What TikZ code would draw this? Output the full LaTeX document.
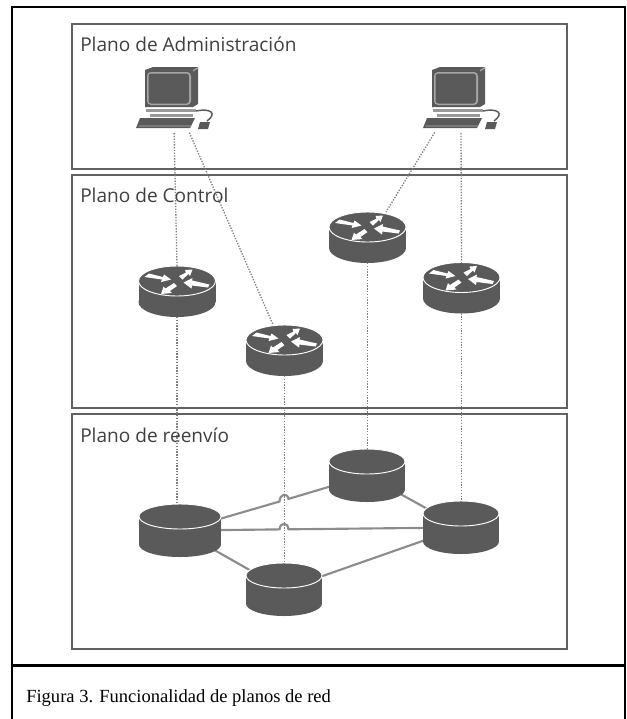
\documentclass[tikz,border=0pt]{standalone}
\usepackage{fontspec}
\setmainfont{Liberation Serif}
\newfontfamily\planefont{Open Sans}
\usetikzlibrary{backgrounds}
\definecolor{devgray}{HTML}{5A5A5A}
\definecolor{linkgray}{HTML}{8C8C8C}
\tikzset{
	devbox/.style={inner sep=0pt,outer sep=0pt,transform shape},
	planebox/.style={draw=black!62,line width=1.3pt,inner sep=0pt,outer sep=0pt},
	planelabel/.style={anchor=base west,inner sep=0pt,text=black!75,font=\planefont\fontsize{14.3}{17}\selectfont},
	captionlabel/.style={anchor=base west,inner sep=0pt,font=\fontsize{13.9}{16}\selectfont},
	framerule/.style={line width=1.6pt,black},
	devlink/.style={linkgray,line width=1.6pt},
	plink/.style={black!50,line width=1pt,dash pattern=on 1pt off 1.1pt},
	routerdev/.pic={
		\node[devbox,minimum width=57.75pt,minimum height=38.25pt] (-box) at (0,0) {};
		\fill[devgray] (-38.5,-10.5) rectangle (38.5,10.5);
		\fill[devgray] (0,10.5) ellipse [x radius=38.5,y radius=15];
		\draw[white,fill=devgray,line width=.7pt] (0,-10.5) ellipse [x radius=38.5,y radius=15];
		% four arrows on the lid
		\begin{scope}[shift={(0,-10.5)}]
			\fill[white] (-32.5,-4) -- (-28,-7.5) -- (-14,-4) -- (-13,-6.5) -- (-6,-1.5) -- (-16,1) -- (-15,-1.5) -- cycle;
			\fill[white] (2,-5) -- (9,-8.5) -- (8,-11) -- (15.5,-11.5) -- (13,-5) -- (11.5,-7) -- (5.5,-1.5) -- cycle;
			\fill[white] (32.5,3.5) -- (31,6.5) -- (15,4.5) -- (14.5,7.5) -- (6.5,1.5) -- (15.5,-3) -- (15,-.5) -- cycle;
			\fill[white] (-3,2) -- (0,5) -- (-7,10) -- (-5,12) -- (-16,13) -- (-13.5,5.5) -- (-11.5,7.5) -- cycle;
		\end{scope}
	},
	cylinderdev/.pic={
		\node[devbox,minimum width=57pt,minimum height=39.75pt] (-box) at (0,0) {};
		\fill[devgray] (-38,-14) rectangle (38,14);
		\fill[devgray] (0,14) ellipse [x radius=38,y radius=12.5];
		\draw[white,fill=devgray,line width=.7pt] (0,-14) ellipse [x radius=38,y radius=12.5];
	},
	pcdev/.pic={
		\node[devbox,minimum width=57pt,minimum height=46.5pt] (-box) at (0,0) {};
		% monitor
		\fill[devgray] (-29,-28) -- (-21,-31) -- (24,-31) -- (24,6) -- (19,9) -- (-29,9) -- cycle;
		\fill[black!35] (19,-28) -- (24,-31) -- (24,-29.5) -- (19,-26.5) -- cycle;
		\fill[black!35,rounded corners=3pt] (-27,-26) rectangle (17,7);
		\fill[devgray,rounded corners=2pt] (-25.5,-24.5) rectangle (15,5.5);
		% base
		\fill[black!40] (-28,11) rectangle (22,14);
		\fill[black!40] (-24,16) rectangle (19,19);
		% keyboard
		\fill[devgray] (-34,20) -- (21,20) -- (16,30) -- (-38,30) -- cycle;
		\fill[black!30] (-35,27.5) -- (18,27.5) -- (17.5,28.3) -- (-35.5,28.3) -- cycle;
		% mouse
		\draw[devgray,line width=1.1pt] (22,13) .. controls (36,10) and (44,15) .. (33,23);
		\fill[devgray] (26,24) -- (36,24) -- (34,31) -- (24,31) -- cycle;
	}
}
\begin{document}
\begin{tikzpicture}[x=0.75pt,y=-0.75pt]
	\useasboundingbox (0,0) rectangle (626,719);

	\draw[framerule] (12,719) -- (12,7) -- (625,7) -- (625,719);
	\draw[framerule] (12,665.5) -- (625,665.5);
	\node[captionlabel] (caption) at (26,702) {Figura 3. Funcionalidad de planos de red};

	% planes
	\node[planebox,minimum width=371.25pt,minimum height=108.75pt] (adm) at (319.5,96.5) {};
	\node[planebox,minimum width=371.25pt,minimum height=174.75pt] (ctrl) at (319.5,291.5) {};
	\node[planebox,minimum width=371.25pt,minimum height=176.25pt] (fwd) at (319.5,531.5) {};
	\node[planelabel] (admlabel) at (80,51) {Plano de Administración};
	\node[planelabel] (ctrllabel) at (80,202) {Plano de Control};
	\node[planelabel] (fwdlabel) at (80,442) {Plano de reenvío};

	% devices
	\pic (pc1) at (174,98) {pcdev};
	\pic (pc2) at (461,98) {pcdev};
	\pic (r1) at (177,291.5) {routerdev};
	\pic (r2) at (367.5,237.5) {routerdev};
	\pic (r3) at (284.5,350.5) {routerdev};
	\pic (r4) at (461.5,288) {routerdev};
	\pic[xscale=1.08] (f1) at (180,530.5) {cylinderdev};
	\pic (f2) at (284,589.5) {cylinderdev};
	\pic (f3) at (367,475.5) {cylinderdev};
	\pic (f4) at (461,527.5) {cylinderdev};

	% links between the forwarding devices
	\coordinate (hopa1) at (279.5,501.5);
	\coordinate (hopa2) at (288.5,498.9);
	\coordinate (hopb1) at (279.5,529.4);
	\coordinate (hopb2) at (288.5,529.3);
	\begin{scope}[on background layer]
		\draw[devlink] (f1-box.center) -- (hopa1) .. controls (280,494) and (287,492) .. (hopa2) -- (f3-box.center);
		\draw[devlink] (f1-box.center) -- (hopb1) .. controls (280,522) and (288,522) .. (hopb2) -- (f4-box.center);
		\draw[devlink] (f1-box.center) -- (f2-box.center);
		\draw[devlink] (f3-box.center) -- (f4-box.center);
		\draw[devlink] (f2-box.center) -- (f4-box.center);
	\end{scope}

	% dotted lines between planes
	\draw[plink,shorten <=3pt] (pc1-box.south) -- (r1-box.north);
	\draw[plink,shorten <=3pt] (pc1-box.-66) -- (r3-box.114);
	\draw[plink,shorten <=3pt] (pc2-box.232) -- (r2-box.54);
	\draw[plink,shorten <=3pt] (pc2-box.south) -- (r4-box.north);
	\draw[plink] (r1-box.south) -- (r1-box.south |- f1-box.north);
	\draw[plink] (r2-box.south) -- (r2-box.south |- f3-box.north);
	\draw[plink] (r3-box.south) -- (r3-box.south |- f2-box.north);
	\draw[plink] (r4-box.south) -- (r4-box.south |- f4-box.north);
\end{tikzpicture}
\end{document}
